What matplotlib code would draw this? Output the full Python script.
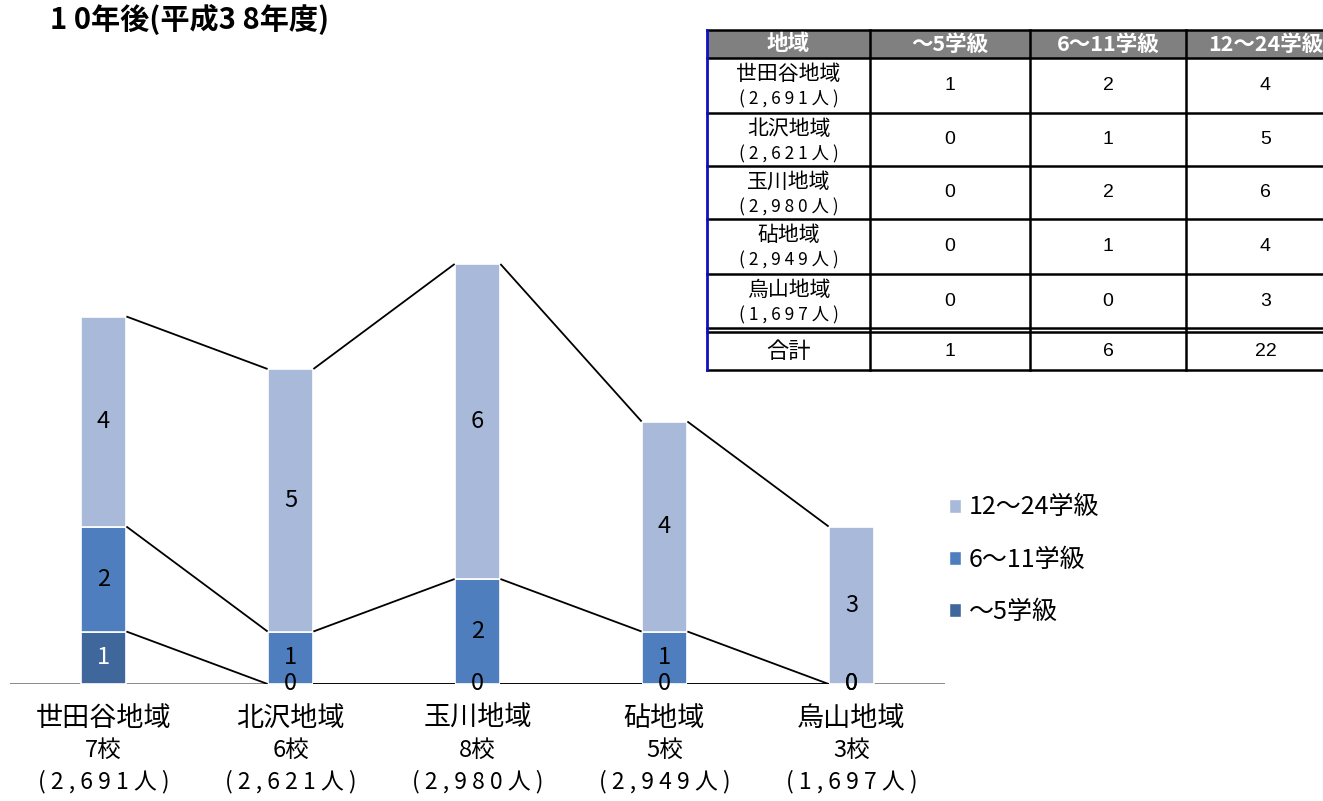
import numpy as np
import matplotlib
matplotlib.use("Agg")
import matplotlib.pyplot as plt
from matplotlib.patches import Rectangle, Patch

plt.rcParams['font.family'] = ['Noto Sans CJK JP', 'DejaVu Sans']

# data
regions = ['世田谷地域', '北沢地域', '玉川地域', '砧地域', '烏山地域']
schools = ['7校', '6校', '8校', '5校', '3校']
people = ['( 2 , 6 9 1 人 )', '( 2 , 6 2 1 人 )', '( 2 , 9 8 0 人 )',
          '( 2 , 9 4 9 人 )', '( 1 , 6 9 7 人 )']
series_names = ['～5学級', '6～11学級', '12～24学級']
small = [1, 0, 0, 0, 0]
medium = [2, 1, 2, 1, 0]
large = [4, 5, 6, 4, 3]
totals = [1, 6, 22]
title = '1 0年後(平成3 8年度)'

colors = ['#3F679B', '#4E7EBD', '#A8B9D9']
label_colors = ['white', 'black', 'black']

W, H = 1323, 801
fig = plt.figure(figsize=(W / 100, H / 100), dpi=100)

# main chart axes (pixel layout converted to figure fractions)
unit = 52.5
base = 684
ax = fig.add_axes([10 / W, (H - base) / H, 935 / W, 8.5 * unit / H])
ax.set_xlim(-0.5, 4.5)
ax.set_ylim(0, 8.5)
for s in ax.spines.values():
    s.set_visible(False)
ax.set_xticks([])
ax.set_yticks([])

x = np.arange(len(regions))
bw = 0.245
bottom = np.zeros(len(regions))
layers = [small, medium, large]
ax.axhline(0, color='#808080', lw=2, zorder=1)
for vals, c, lc in zip(layers, colors, label_colors):
    vals = np.array(vals, dtype=float)
    ax.bar(x, vals, bw, bottom=bottom, color=c, edgecolor='white',
           linewidth=1.2, zorder=2)
    top = bottom + vals
    # series connecting lines
    for i in range(len(x) - 1):
        ax.plot([x[i] + bw / 2, x[i + 1] - bw / 2], [top[i], top[i + 1]],
                color='black', lw=1.3, zorder=3, solid_capstyle='butt')
    for i, v in enumerate(vals):
        ax.text(x[i], bottom[i] + v / 2, f'{int(v)}', ha='center', va='center',
                fontsize=17, color=lc if v > 0 else 'black', zorder=4)
    bottom = top

# category labels, three lines (pixel rows 718 / 750 / 782)
for i in range(len(x)):
    ax.text(x[i], -(718 - base) / unit, regions[i], ha='center', va='center',
            fontsize=19.5)
    ax.text(x[i], -(750 - base) / unit, schools[i], ha='center', va='center',
            fontsize=17)
    ax.text(x[i], -(782 - base) / unit, people[i], ha='center', va='center',
            fontsize=16.5)

# legend
handles = [Patch(facecolor=c, edgecolor='white') for c in colors][::-1]
fig.legend(handles, series_names[::-1], loc='upper left',
           bbox_to_anchor=(926 / W, 1 - 472 / H), frameon=False, fontsize=18,
           handlelength=0.5, handleheight=0.5, handletextpad=0.3,
           labelspacing=1.05)

# title
fig.text(50 / W, 1 - 19 / H, title, fontsize=21, fontweight='bold',
         ha='left', va='center')

# table overlay in pixel coordinates
tx = fig.add_axes([0, 0, 1, 1])
tx.set_xlim(0, W)
tx.set_ylim(H, 0)
tx.axis('off')

col_edges = [707, 870, 1030, 1186, 1345]
row_edges = [30, 58, 113, 166, 219, 274, 328]
tot_top, tot_bot = 332, 370

tx.add_patch(Rectangle((col_edges[0], row_edges[0]), col_edges[-1] - col_edges[0],
                       row_edges[1] - row_edges[0], facecolor='#808080',
                       edgecolor='none'))
headers = ['地域'] + series_names
for j, h in enumerate(headers):
    tx.text((col_edges[j] + col_edges[j + 1]) / 2, (row_edges[0] + row_edges[1]) / 2,
            h, ha='center', va='center', color='white', fontsize=15.5,
            fontweight='bold')

for r in range(len(regions)):
    y0, y1 = row_edges[r + 1], row_edges[r + 2]
    xc0 = (col_edges[0] + col_edges[1]) / 2
    tx.text(xc0, y0 + 16, regions[r], ha='center', va='center', fontsize=15)
    tx.text(xc0, y0 + 41, people[r], ha='center', va='center', fontsize=12.5)
    for j, vals in enumerate(layers):
        tx.text((col_edges[j + 1] + col_edges[j + 2]) / 2, (y0 + y1) / 2,
                str(vals[r]), ha='center', va='center', fontsize=14,
                family='Liberation Sans')

tx.text((col_edges[0] + col_edges[1]) / 2, (tot_top + tot_bot) / 2, '合計',
        ha='center', va='center', fontsize=16)
for j, t in enumerate(totals):
    tx.text((col_edges[j + 1] + col_edges[j + 2]) / 2, (tot_top + tot_bot) / 2,
            str(t), ha='center', va='center', fontsize=14, family='Liberation Sans')

# grid lines
for y in row_edges + [tot_top, tot_bot]:
    tx.plot([col_edges[0], col_edges[-1]], [y, y], color='black', lw=1.8)
for xe in col_edges[1:]:
    tx.plot([xe, xe], [row_edges[0], tot_bot], color='black', lw=1.8)
tx.plot([col_edges[0], col_edges[0]], [row_edges[0], tot_bot], color='#1010C0', lw=2)

fig.savefig('out.png', dpi=100)
